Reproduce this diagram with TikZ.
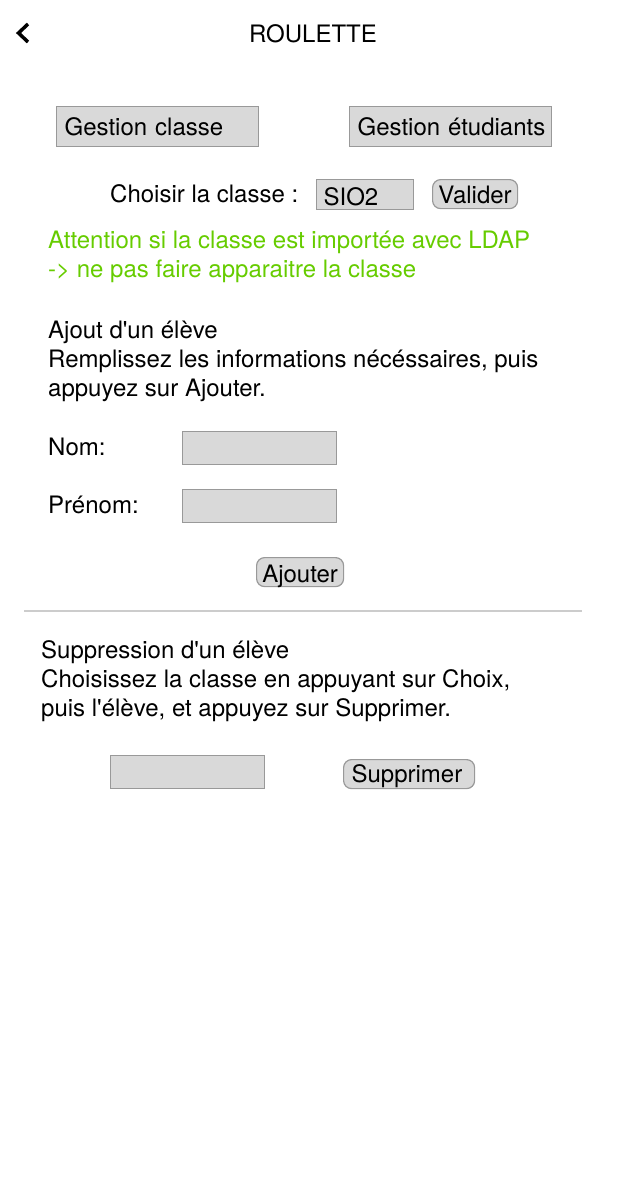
\documentclass[tikz,border=0pt]{standalone}
\usepackage{fontspec}
\setmainfont{TeX Gyre Heros}
\usetikzlibrary{positioning}
\definecolor{boxgray}{HTML}{D9D9D9}
\definecolor{edgegray}{HTML}{999999}
\definecolor{warngreen}{HTML}{66CC00}
\definecolor{rulegray}{HTML}{CCCCCC}
\tikzstyle{txt}=[inner sep=0, anchor=base west, font=\fontsize{24}{29}\selectfont]
\tikzstyle{warn}=[txt, text=warngreen]
\tikzstyle{field}=[draw=edgegray, fill=boxgray, line width=1.2pt, inner sep=0,
		anchor=north west, font=\fontsize{24}{29}\selectfont, text depth=0pt]
\tikzstyle{onglet}=[field, minimum height=40pt, text width=186pt, inner xsep=8pt,
		align=left, text height=18pt]
\tikzstyle{btn}=[field, rounded corners=8pt, minimum height=29pt]

\begin{document}
\begin{tikzpicture}[x=1pt, y=-1pt]
        \useasboundingbox (0,0) rectangle (627,1203);
        % en-tete
        \draw[line width=3.5pt] (28,24) -- (18.5,33) -- (28,42);
        \node[txt, anchor=base] (titre) at (313,42) {ROULETTE};
        \node[onglet] (gclasse) at (56,106) {Gestion classe};
        \node[onglet] (getud) at (349,106) {\mbox{Gestion étudiants}};
        % choix de la classe
        \node[txt] (choix) at (110,202) {Choisir la classe :};
        \node[field, minimum height=30pt, text width=83pt,
            inner xsep=7pt, align=left, text height=22pt] (classe) at (316,179) {SIO2};
        \node[btn, minimum width=85pt, text height=18pt] (valider) at (432,179) {Valider};
        \node[warn] (warn1) at (48,248) {Attention si la classe est importée avec LDAP};
        \node[warn] (warn2) at (48,277) {-> ne pas faire apparaitre la classe};
        % ajout
        \node[txt] (ajout1) at (48,338) {Ajout d\textquotesingle un élève};
        \node[txt] (ajout2) at (48,367) {Remplissez les informations nécéssaires, puis};
        \node[txt] (ajout3) at (48,396) {appuyez sur Ajouter.};
        \node[txt] (nom) at (48,455) {Nom:};
        \node[txt] (prenom) at (48,513) {Prénom:};
        \node[field, minimum width=154pt, minimum height=33pt] (cnom) at (182,431) {};
        \node[field, minimum width=154pt, minimum height=33pt] (cprenom) at (182,489) {};
        \node[btn, minimum width=87pt, text height=21pt] (ajouter) at (256,557) {Ajouter};
        \draw[rulegray, line width=2pt] (24,611) -- (582,611);
        % suppression
        \node[txt] (supp1) at (41,658) {Suppression d\textquotesingle un élève};
        \node[txt] (supp2) at (41,687) {Choisissez la classe en appuyant sur Choix,};
        \node[txt] (supp3) at (41,716) {puis l\textquotesingle élève, et appuyez sur Supprimer.};
        \node[field, minimum width=154pt, minimum height=33pt] (celeve) at (110,755) {};
        \node[btn, text height=17pt, text width=115pt, align=left,
            inner xsep=8pt] (supprimer) at (343,759) {Supprimer};
\end{tikzpicture}
\end{document}
